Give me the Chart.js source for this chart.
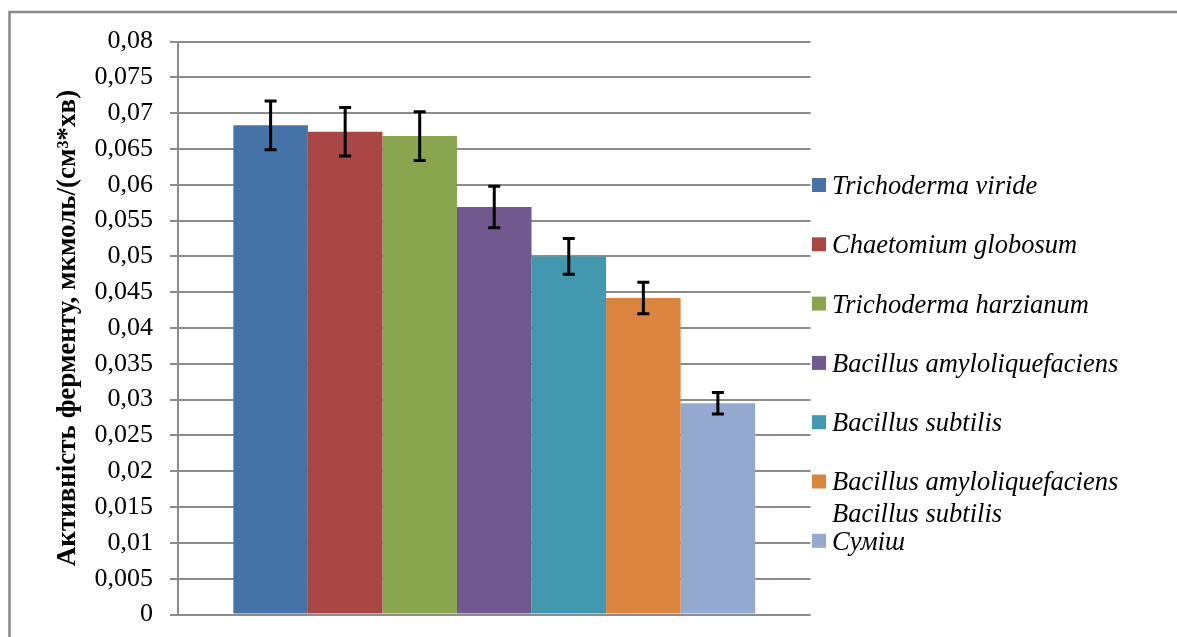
<!DOCTYPE html>
<html>
<head>
<meta charset="utf-8">
<script src="https://cdn.jsdelivr.net/npm/chart.js@4"></script>
<style>
  html, body { margin: 0; padding: 0; background: #fff; }
  #wrap { width: 1177px; height: 637px; position: relative; }
</style>
</head>
<body>
<div id="wrap"><canvas id="grafico" width="1177" height="637"></canvas></div>
<script>
// datos del gráfico
const categorias = [''];
const etiquetas = [
  'Trichoderma viride',
  'Chaetomium globosum',
  'Trichoderma harzianum',
  'Bacillus amyloliquefaciens',
  'Bacillus subtilis',
  'Bacillus amyloliquefaciens\nBacillus subtilis',
  'Сумiш'
];
const valores = [0.0683, 0.0674, 0.0668, 0.0569, 0.0500, 0.0442, 0.0295];
const errores = [0.0034, 0.0034, 0.0034, 0.0029, 0.0025, 0.0022, 0.0015];
const colores = ['#4572A7', '#AA4643', '#89A54E', '#71588F', '#4198AF', '#DB843D', '#93A9CF'];
const ticksY = ['0', '0,005', '0,01', '0,015', '0,02', '0,025', '0,03', '0,035', '0,04',
  '0,045', '0,05', '0,055', '0,06', '0,065', '0,07', '0,075', '0,08'];
const tituloY = 'Активність ферменту, мкмоль/(см³*хв)';

const serif = '"Liberation Serif", "Times New Roman", serif';

// marco gris (solo arriba e izquierda visibles)
const marco = {
  id: 'marco',
  beforeDraw(chart) {
    const ctx = chart.ctx;
    ctx.save();
    ctx.strokeStyle = '#878787';
    ctx.lineWidth = 2.5;
    ctx.beginPath();
    ctx.moveTo(9.5, 700);
    ctx.lineTo(9.5, 12);
    ctx.lineTo(1200, 12);
    ctx.stroke();
    ctx.restore();
  }
};

// barras de error
const barrasError = {
  id: 'barrasError',
  afterDatasetsDraw(chart) {
    const ctx = chart.ctx;
    const y = chart.scales.y;
    ctx.save();
    ctx.strokeStyle = '#000';
    ctx.lineWidth = 3;
    chart.data.datasets.forEach((ds, i) => {
      const bar = chart.getDatasetMeta(i).data[0];
      const v = ds.data[0], e = errores[i];
      const y1 = y.getPixelForValue(v + e);
      const y2 = y.getPixelForValue(v - e);
      ctx.beginPath();
      ctx.moveTo(bar.x, y1); ctx.lineTo(bar.x, y2);
      ctx.moveTo(bar.x - 6, y1); ctx.lineTo(bar.x + 6, y1);
      ctx.moveTo(bar.x - 6, y2); ctx.lineTo(bar.x + 6, y2);
      ctx.stroke();
    });
    ctx.restore();
  }
};

// leyenda a la derecha
const leyenda = {
  id: 'leyenda',
  afterDraw(chart) {
    const ctx = chart.ctx;
    ctx.save();
    ctx.font = 'italic 26.5px ' + serif;
    ctx.textBaseline = 'middle';
    ctx.fillStyle = '#000';
    const y0 = 185, paso = 59.3;
    chart.data.datasets.forEach((ds, i) => {
      const yc = y0 + i * paso;
      ctx.fillStyle = ds.backgroundColor;
      ctx.fillRect(812, yc - 7, 14, 14);
      ctx.fillStyle = '#000';
      ds.label.split('\n').forEach((t, k) => {
        ctx.fillText(t, 832, yc + 2 + k * 31.5);
      });
    });
    ctx.restore();
  }
};

const ctx = document.getElementById('grafico').getContext('2d');
const chart = new Chart(ctx, {
  type: 'bar',
  data: {
    labels: categorias,
    datasets: etiquetas.map((et, i) => ({
      label: et,
      data: [valores[i]],
      backgroundColor: colores[i],
      borderWidth: 0,
      categoryPercentage: 0.825,
      barPercentage: 1
    }))
  },
  options: {
    responsive: false,
    animation: false,
    devicePixelRatio: 1,
    layout: { padding: { top: 41.5, bottom: 22.5, right: 366.5, left: 0 } },
    plugins: { legend: { display: false }, tooltip: { enabled: false } },
    scales: {
      x: { display: false },
      y: {
        min: 0,
        max: 0.08,
        afterFit(scale) {
          scale.width = 178;
          scale.paddingTop = 0;
          scale.paddingBottom = 0;
        },
        ticks: {
          stepSize: 0.005,
          autoSkip: false,
          color: '#000',
          padding: 17,
          font: { family: serif, size: 26 },
          callback: (v, i) => ticksY[i]
        },
        grid: { color: '#8c8c8c', lineWidth: 2, tickLength: 8, drawTicks: true },
        border: { display: true, color: '#8c8c8c', width: 2 },
        title: {
          display: true,
          text: tituloY,
          color: '#000',
          font: { family: serif, size: 27, weight: 'bold' },
          padding: { top: 52, bottom: 0 }
        }
      }
    }
  },
  plugins: [marco, barrasError, leyenda]
});
</script>
</body>
</html>
